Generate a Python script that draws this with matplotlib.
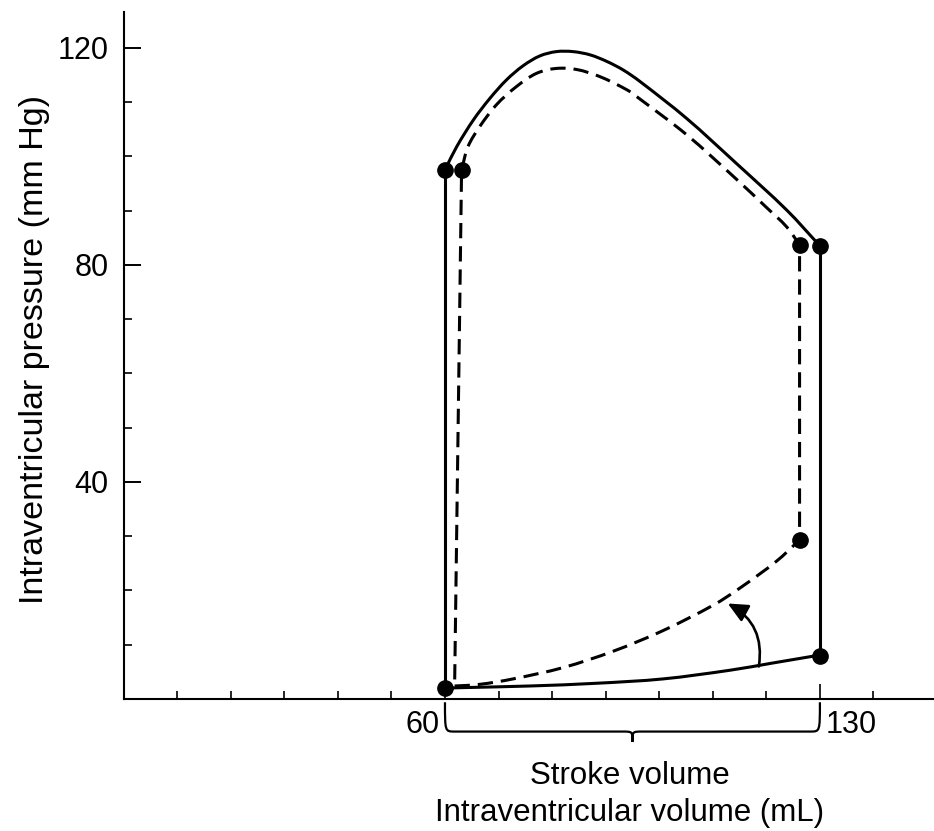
import matplotlib
matplotlib.use('Agg')
import matplotlib.pyplot as plt
from matplotlib.path import Path
from matplotlib.patches import PathPatch

plt.rcParams['font.family'] = ['Liberation Sans', 'DejaVu Sans']

# solid loop (control)
solid_top_x = [60, 62.2, 65.3, 68.4, 71.5, 74.6, 77.7, 80.8, 83.9, 87.1, 90.2, 93.3, 96.4,
               105.1, 114.4, 123.8, 130]
solid_top_p = [97.5, 101.8, 106.7, 110.7, 114.1, 116.7, 118.5, 119.3, 119.3, 118.7, 117.5, 115.9, 113.8,
               107.0, 98.7, 90.1, 83.5]
solid_fill_x = [60, 63.4, 75.9, 88.3, 100.7, 113.2, 121, 130]
solid_fill_p = [2.0, 2.1, 2.4, 2.9, 3.7, 5.3, 6.6, 8.1]

# dashed loop (decreased compliance)
dash_top_x = [63.1, 64.3, 66.5, 69.6, 73.4, 77.1, 80.8, 84.6, 88.9, 93.9, 95.8,
              105.1, 114.4, 120, 123.8, 126.2]
dash_top_p = [97.5, 101.8, 105.5, 109.5, 112.9, 115.3, 116.2, 116.0, 114.7, 112.3, 111.0,
              104.0, 95.8, 90.6, 87.0, 83.7]
dash_fill_x = [61.8, 66.5, 72.7, 82.1, 91.4, 100.7, 110.1, 115, 121.9, 126.2]
dash_fill_p = [2.4, 2.7, 3.7, 5.8, 8.8, 12.6, 17.3, 20.4, 25.4, 29.3]

solid_pts_x = [60, 60, 130, 130]
solid_pts_p = [2.0, 97.5, 83.5, 7.9]
dash_pts_x = [63.1, 126.2, 126.2]
dash_pts_p = [97.5, 83.7, 29.3]


def smooth_path(xs, ys):
    # bezier through the read points, handles scaled by chord length
    n = len(xs)
    t = [0.0]
    for i in range(1, n):
        t.append(t[-1] + ((xs[i] - xs[i - 1]) ** 2 + (ys[i] - ys[i - 1]) ** 2) ** 0.5)
    m = []
    for i in range(n):
        a, b = max(i - 1, 0), min(i + 1, n - 1)
        m.append(((xs[b] - xs[a]) / (t[b] - t[a]), (ys[b] - ys[a]) / (t[b] - t[a])))
    verts = [(xs[0], ys[0])]
    codes = [Path.MOVETO]
    for i in range(n - 1):
        h = (t[i + 1] - t[i]) / 3
        verts += [(xs[i] + m[i][0] * h, ys[i] + m[i][1] * h),
                  (xs[i + 1] - m[i + 1][0] * h, ys[i + 1] - m[i + 1][1] * h),
                  (xs[i + 1], ys[i + 1])]
        codes += [Path.CURVE4] * 3
    return verts, codes


fig = plt.figure(figsize=(9.34, 8.31), dpi=100)
ax = fig.add_axes([123.6 / 934, 1 - 699 / 831, (934 - 123.6) / 934, (699 - 12) / 831])
ax.set_xlim(0, 151.3)
ax.set_ylim(0, 126.6)

lw = 2.2
dash = (0, (5, 2.6))

# solid loop
for xs, ys in [(solid_fill_x, solid_fill_p), (solid_top_x, solid_top_p)]:
    v, c = smooth_path(xs, ys)
    ax.add_patch(PathPatch(Path(v, c), fill=False, lw=lw, color='black', capstyle='round'))
ax.plot([solid_pts_x[3], solid_pts_x[2]], [solid_pts_p[3], solid_pts_p[2]], color='black', lw=lw)
ax.plot([solid_pts_x[1], solid_pts_x[0]], [solid_pts_p[1], solid_pts_p[0]], color='black', lw=lw)

# dashed loop
v1, c1 = smooth_path(dash_fill_x, dash_fill_p)
v2, c2 = smooth_path(dash_top_x[::-1], dash_top_p[::-1])
c2 = [Path.LINETO] + c2[1:]
verts = v1 + v2 + [(dash_fill_x[0], dash_fill_p[0])]
codes = c1 + c2 + [Path.LINETO]
ax.add_patch(PathPatch(Path(verts, codes), fill=False, lw=lw, color='black',
                       linestyle=dash, capstyle='butt'))

ax.plot(solid_pts_x, solid_pts_p, 'o', color='black', ms=11, zorder=5, clip_on=False)
ax.plot(dash_pts_x, dash_pts_p, 'o', color='black', ms=11, zorder=5, clip_on=False)

# curved arrow
ax.annotate('', xy=(112.8, 17.6), xytext=(118.6, 6.0),
            arrowprops=dict(arrowstyle='-|>,head_length=0.6,head_width=0.28',
                            mutation_scale=20, lw=1.9, color='black',
                            connectionstyle='arc3,rad=0.35', shrinkA=0, shrinkB=0))

# axes styling
for s in ['top', 'right']:
    ax.spines[s].set_visible(False)
ax.spines['left'].set_linewidth(1.5)
ax.spines['bottom'].set_linewidth(1.5)

ax.set_yticks([40, 80, 120])
ax.set_yticks(range(10, 130, 10), minor=True)
ax.set_xticks([60, 130])
ax.set_xticklabels(['', ''])
ax.set_xticks([t for t in range(10, 150, 10) if t not in (60, 130)], minor=True)
ax.tick_params(axis='y', which='major', direction='in', length=12, width=1.4, labelsize=22, pad=11)
ax.tick_params(axis='y', which='minor', direction='in', length=6, width=1.2)
ax.tick_params(axis='x', which='major', direction='in', length=11, width=1.2)
ax.tick_params(axis='x', which='minor', direction='in', length=5.5, width=1.2)

# brace under the stroke volume
bx0, bx1, bm = 60, 130, 95
by_top, by, btip = -0.6, -6.0, -7.9
r = 1.8
verts = [(bx0, by_top), (bx0, by), (bx0, by), (bx0 + r, by),
         (bm - r, by), (bm, by), (bm, by), (bm, btip),
         (bm, by), (bm, by), (bm + r, by),
         (bx1 - r, by), (bx1, by), (bx1, by), (bx1, by_top)]
codes = [Path.MOVETO, Path.CURVE4, Path.CURVE4, Path.CURVE4,
         Path.LINETO, Path.CURVE4, Path.CURVE4, Path.CURVE4,
         Path.CURVE4, Path.CURVE4, Path.CURVE4,
         Path.LINETO, Path.CURVE4, Path.CURVE4, Path.CURVE4]
ax.add_patch(PathPatch(Path(verts, codes), fill=False, lw=1.6, color='black', clip_on=False))

ax.text(59.0, -4.8, '60', ha='right', va='center', fontsize=22, clip_on=False)
ax.text(131.0, -4.8, '130', ha='left', va='center', fontsize=22, clip_on=False)
ax.text(94.5, -14.2, 'Stroke volume', ha='center', va='center', fontsize=22.5)
ax.text(94.5, -21.0, 'Intraventricular volume (mL)', ha='center', va='center', fontsize=22.5)

fig.text(35 / 934, 1 - 350 / 831, 'Intraventricular pressure (mm Hg)', rotation=90,
         ha='center', va='center', fontsize=24.5)

fig.savefig('out.png', dpi=100)
